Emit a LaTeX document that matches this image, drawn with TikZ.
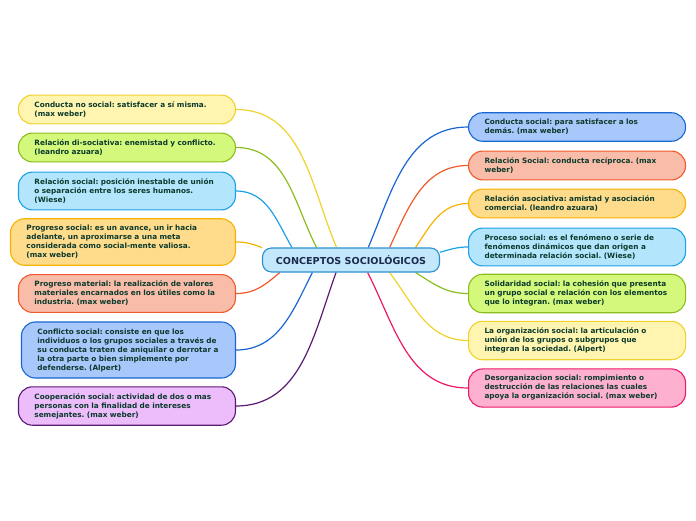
\documentclass[tikz,border=0pt]{standalone}
\usepackage{fontspec}
\setmainfont{DejaVu Sans}
\usetikzlibrary{backgrounds}
\frenchspacing

\definecolor{txt}{HTML}{0B3A2C}
\definecolor{toptxt}{HTML}{1B2B4E}
\definecolor{ctrfill}{HTML}{C3E7FB}\definecolor{ctrline}{HTML}{2B8FD1}
\definecolor{yelfill}{HTML}{FFF5B1}\definecolor{yelline}{HTML}{F0D22E}
\definecolor{grnfill}{HTML}{D4F87C}\definecolor{grnline}{HTML}{8CBD1E}
\definecolor{cyafill}{HTML}{B3E5FC}\definecolor{cyaline}{HTML}{1DA1E6}
\definecolor{orafill}{HTML}{FFDB8C}\definecolor{oraline}{HTML}{F8B200}
\definecolor{salfill}{HTML}{F8BCA8}\definecolor{salline}{HTML}{EF5B2B}
\definecolor{blufill}{HTML}{A8C8FC}\definecolor{bluline}{HTML}{1866D0}
\definecolor{purfill}{HTML}{EDBDFB}\definecolor{purline}{HTML}{5B1A72}
\definecolor{pnkfill}{HTML}{FEB0D0}\definecolor{pnkline}{HTML}{EC1869}

\begin{document}
\begin{tikzpicture}[x=1pt,y=1pt,
  idea/.style={draw,rounded corners=14pt,line width=1.1pt,align=left,text width=185pt,inner xsep=16pt,inner ysep=6.5pt,font=\fontsize{7.3}{9}\selectfont\bfseries,text=txt},
  topic/.style={draw=ctrline,fill=ctrfill,rounded corners=9pt,line width=1.1pt,minimum width=177pt,minimum height=24pt,font=\fontsize{9.6}{10}\selectfont\bfseries,text=toptxt},
  branch/.style={line width=1.2pt,draw=#1},
  yel/.style={fill=yelfill,draw=yelline},grn/.style={fill=grnfill,draw=grnline},
  cya/.style={fill=cyafill,draw=cyaline},ora/.style={fill=orafill,draw=oraline},
  sal/.style={fill=salfill,draw=salline},blu/.style={fill=blufill,draw=bluline},
  pur/.style={fill=purfill,draw=purline},pnk/.style={fill=pnkfill,draw=pnkline}]
\useasboundingbox (0,0) rectangle (696,-520);
\node[topic] (ctr) at (351,-260) {CONCEPTOS SOCIOLÓGICOS};
% left side
\node[idea,yel,anchor=east] (l1) at (236,-109.5) {Conducta no social: satisfacer a sí misma.\\(max weber)};
\node[idea,grn,anchor=east] (l2) at (236,-147.5) {Relación di-sociativa: enemistad y conflicto.\\(leandro azuara)};
\node[idea,cya,anchor=east] (l3) at (236,-191) {Relación social: posición inestable de unión\\o separación entre los seres humanos.\\(Wiese)};
\node[idea,ora,anchor=east,text width=193pt] (l4) at (236,-242) {Progreso social: es un avance, un ir hacia\\adelante, un aproximarse a una meta\\considerada como social-mente valiosa.\\(max weber)};
\node[idea,sal,anchor=east] (l5) at (236,-293.5) {Progreso material: la realización de valores\\materiales encarnados en los útiles como la\\industria. (max weber)};
\node[idea,blu,anchor=east,text width=182pt] (l6) at (236,-350) {Conflicto social: consiste en que los\\individuos o los grupos sociales a través de\\su conducta traten de aniquilar o derrotar a\\la otra parte o bien simplemente por\\defenderse. (Alpert)};
\node[idea,pur,anchor=east] (l7) at (236,-406) {Cooperación social: actividad de dos o mas\\personas con la finalidad de intereses\\semejantes. (max weber)};
% right side
\node[idea,blu,anchor=west] (r1) at (468,-127) {Conducta social: para satisfacer a los\\demás. (max weber)};
\node[idea,sal,anchor=west] (r2) at (468,-165.5) {Relación Social: conducta recíproca. (max\\weber)};
\node[idea,ora,anchor=west] (r3) at (468,-203.5) {Relación asociativa: amistad y asociación\\comercial. (leandro azuara)};
\node[idea,cya,anchor=west] (r4) at (468,-247) {Proceso social: es el fenómeno o serie de\\fenómenos dinámicos que dan origen a\\determinada relación social. (Wiese)};
\node[idea,grn,anchor=west] (r5) at (468,-293.5) {Solidaridad social: la cohesión que presenta\\un grupo social e relación con los elementos\\que lo integran. (max weber)};
\node[idea,yel,anchor=west] (r6) at (468,-340.5) {La organización social: la articulación o\\unión de los grupos o subgrupos que\\integran la sociedad. (Alpert)};
\node[idea,pnk,anchor=west] (r7) at (468,-388) {Desorganizacion social: rompimiento o\\destrucción de las relaciones las cuales\\apoya la organización social. (max weber)};
\begin{scope}[on background layer]
\draw[branch=yelline] (ctr.139) to[out=113,in=0] (l1.east);
\draw[branch=grnline] (ctr.160.6) to[out=117,in=0] (l2.east);
\draw[branch=cyaline] (ctr.168) to[out=120,in=0] (l3.east);
\draw[branch=oraline] (ctr.172.9) to[out=160,in=0] (l4.east);
\draw[branch=salline] (ctr.190.8) to[out=220,in=0] (l5.east);
\draw[branch=bluline] (ctr.198.4) to[out=243,in=0] (l6.east);
\draw[branch=purline] (ctr.220.6) to[out=250,in=0] (l7.east);
\draw[branch=bluline] (ctr.36.9) to[out=67,in=180] (r1.west);
\draw[branch=salline] (ctr.18.4) to[out=65,in=180] (r2.west);
\draw[branch=oraline] (ctr.11.5) to[out=56,in=180] (r3.west);
\draw[branch=cyaline] (ctr.5.3) to[out=15,in=180] (r4.west);
\draw[branch=grnline] (ctr.349.4) to[out=328,in=180] (r5.west);
\draw[branch=yelline] (ctr.342) to[out=307,in=180] (r6.west);
\draw[branch=pnkline] (ctr.323.1) to[out=297,in=180] (r7.west);
\end{scope}
\end{tikzpicture}
\end{document}
